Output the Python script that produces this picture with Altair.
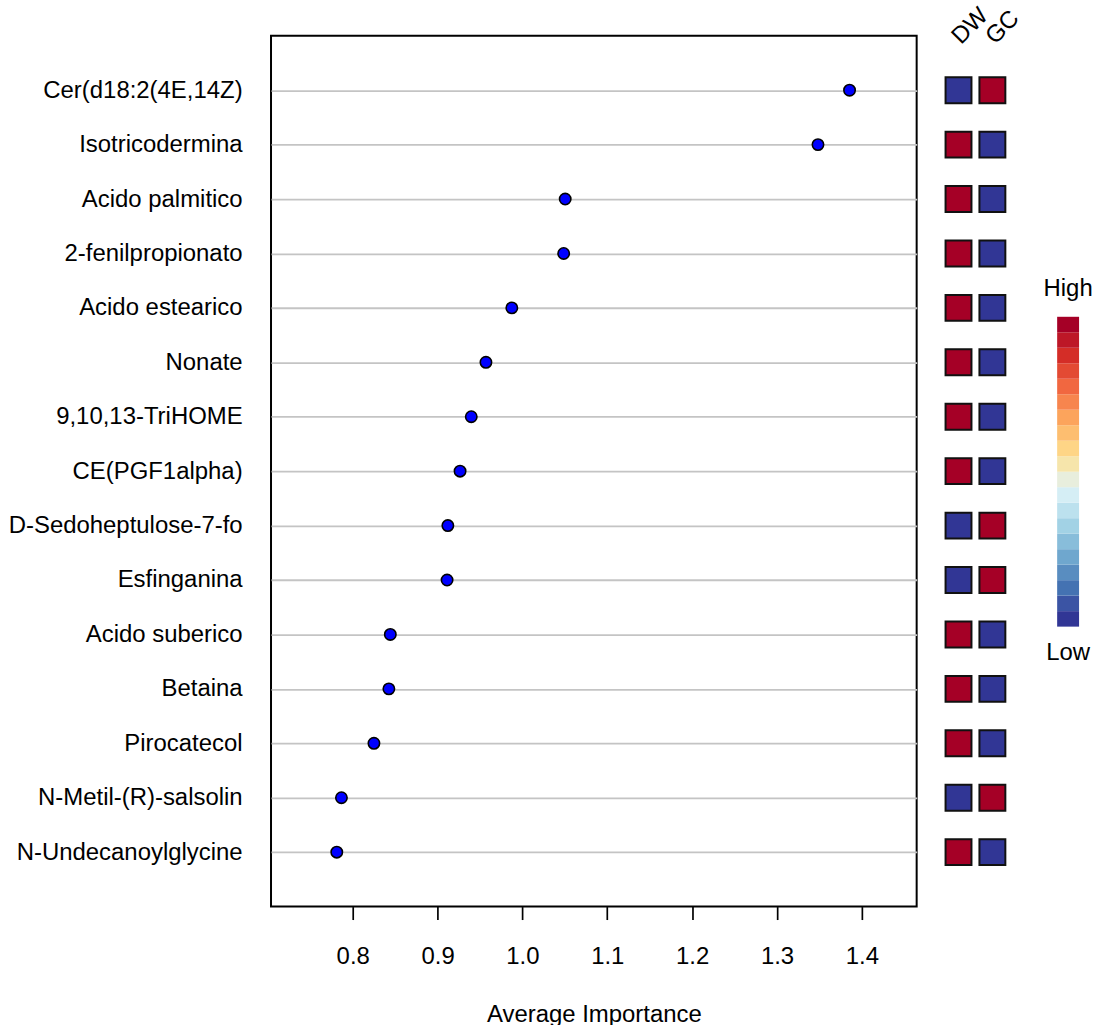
import altair as alt
import pandas as pd

# ---------------- data ----------------
metabolites = [
    "Cer(d18:2(4E,14Z)", "Isotricodermina", "Acido palmitico", "2-fenilpropionato",
    "Acido estearico", "Nonate", "9,10,13-TriHOME", "CE(PGF1alpha)",
    "D-Sedoheptulose-7-fo", "Esfinganina", "Acido suberico", "Betaina",
    "Pirocatecol", "N-Metil-(R)-salsolin", "N-Undecanoylglycine",
]
importance = [1.3855, 1.3483, 1.0504, 1.0486, 0.9875, 0.9570, 0.9397, 0.9265,
              0.9121, 0.9112, 0.8443, 0.8426, 0.8250, 0.7867, 0.7812]
dw_level = ["Low", "High", "High", "High", "High", "High", "High", "High",
            "Low", "Low", "High", "High", "High", "Low", "High"]
gc_level = ["High", "Low", "Low", "Low", "Low", "Low", "Low", "Low",
            "High", "High", "Low", "Low", "Low", "High", "Low"]
groups = ["DW", "GC"]
x_ticks = [0.8, 0.9, 1.0, 1.1, 1.2, 1.3, 1.4]
# colour key, from Low (bottom) to High (top)
key_colors = ["#313695", "#3B54A4", "#4472B2", "#598DC0", "#6FA7CE", "#88BDDA",
              "#A2D2E5", "#BCE1EE", "#D5EEF5", "#E8EEDD", "#F6E5AB", "#FED586",
              "#FDBE70", "#FCA45C", "#F7854E", "#F16740", "#E34A33", "#D42D27",
              "#BD1727", "#A50026"]
key_labels = ["Low", "High"]
level_colors = {"High": "#A50026", "Low": "#313695"}

FONT = "Liberation Sans"
FS = 24

# ---------------- main dot chart ----------------
main_df = pd.DataFrame({"metabolite": metabolites, "importance": importance})

main = alt.Chart(main_df).mark_circle(
    size=130, color="#0000FF", stroke="black", strokeWidth=1.6, opacity=1
).encode(
    x=alt.X(
        "importance:Q",
        scale=alt.Scale(domain=[0.7037, 1.4646], nice=False, zero=False),
        axis=alt.Axis(
            values=x_ticks, format=".1f", tickSize=13, tickWidth=1.7,
            tickColor="black", domain=False, grid=False,
            labelFontSize=FS, labelPadding=25, labelColor="black", labelFont=FONT,
            title="Average Importance", titleFontSize=FS, titleFontWeight="normal",
            titleFont=FONT, titleColor="black", titlePadding=34,
        ),
    ),
    y=alt.Y(
        "metabolite:N",
        sort=metabolites,
        scale=alt.Scale(domain=metabolites, padding=1),
        axis=alt.Axis(
            title=None, ticks=False, tickSize=0, domain=False, grid=True,
            gridColor="#C4C4C4", gridWidth=1.8, labelFontSize=FS,
            labelPadding=29, labelColor="black", labelFont=FONT, labelLimit=400,
        ),
    ),
).properties(
    width=648, height=874,
    view=alt.ViewBackground(stroke="black", strokeWidth=2),
)

# ---------------- heat tiles ----------------
heat_rows = []
for m, d, g in zip(metabolites, dw_level, gc_level):
    heat_rows.append({"metabolite": m, "group": groups[0], "level": d})
    heat_rows.append({"metabolite": m, "group": groups[1], "level": g})
heat_df = pd.DataFrame(heat_rows)

heat = alt.Chart(heat_df).mark_square(
    size=676, stroke="#111111", strokeWidth=2, opacity=1
).encode(
    x=alt.X(
        "group:N",
        sort=groups,
        scale=alt.Scale(domain=groups, padding=0.5),
        axis=alt.Axis(
            orient="top", title=None, ticks=False, tickSize=0, domain=False,
            labelAngle=-45, labelAlign="left", labelBaseline="alphabetic",
            labelFontSize=FS, labelFont=FONT, labelColor="black",
            labelPadding=0, offset=-9, labelOffset=2,
        ),
    ),
    y=alt.Y(
        "metabolite:N",
        sort=metabolites,
        scale=alt.Scale(domain=metabolites, padding=1),
        axis=None,
    ),
    color=alt.Color(
        "level:N",
        scale=alt.Scale(domain=list(level_colors.keys()),
                        range=list(level_colors.values())),
        legend=None,
    ),
).properties(width=68, height=874)

# ---------------- colour key ----------------
key_df = pd.DataFrame({
    "k": ["key"] * len(key_colors),
    "i": list(range(len(key_colors))),
    "i2": [i + 1 for i in range(len(key_colors))],
})
key_y_scale = alt.Scale(domain=[-18.07, 38.14], nice=False, zero=False)

key_bar = alt.Chart(key_df).mark_rect(opacity=1).encode(
    x=alt.X("k:N", scale=alt.Scale(paddingInner=0, paddingOuter=0), axis=None),
    y=alt.Y("i:Q", scale=key_y_scale, axis=None),
    y2="i2:Q",
    color=alt.Color(
        "i:O",
        scale=alt.Scale(domain=list(range(len(key_colors))), range=key_colors),
        legend=None,
    ),
)

key_text_df = pd.DataFrame({
    "k": ["key", "key"],
    "label": key_labels,
    "pos": [-1.73, 21.8],
})
key_text = alt.Chart(key_text_df).mark_text(
    fontSize=FS, font=FONT, color="black", baseline="middle", align="center"
).encode(
    x=alt.X("k:N", scale=alt.Scale(paddingInner=0, paddingOuter=0), axis=None),
    y=alt.Y("pos:Q", scale=key_y_scale, axis=None),
    text="label:N",
)

key = alt.layer(key_bar, key_text).properties(width=22, height=874)

right = alt.hconcat(heat, key, spacing=48, bounds="flush").resolve_scale(
    color="independent"
)

chart = alt.hconcat(main, right, spacing=25, bounds="flush").resolve_scale(
    color="independent"
).properties(
    padding={"left": 7, "top": 0, "right": 5, "bottom": 5},
    background="white",
).configure_view(
    stroke="transparent"
)

chart.save("out.html", embed_options={"renderer": "svg", "actions": False})
